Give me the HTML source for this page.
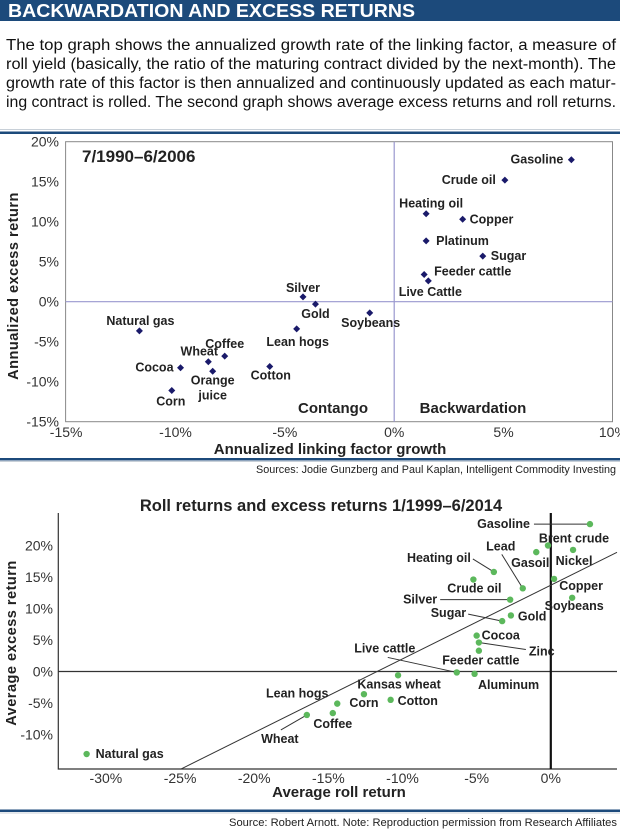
<!DOCTYPE html>
<html><head><meta charset="utf-8"><style>
html,body{margin:0;padding:0;background:#fff;}
svg{display:block;font-family:"Liberation Sans",sans-serif;}
</style></head><body>
<svg id="svg" width="620" height="832" viewBox="0 0 620 832" xmlns="http://www.w3.org/2000/svg">
<rect x="0" y="0" width="620" height="21" fill="#1c4a7b"/>
<text x="8" y="17" fill="#fff" font-weight="bold" font-size="18" textLength="407" lengthAdjust="spacingAndGlyphs">BACKWARDATION AND EXCESS RETURNS</text>
<g font-size="15.5" fill="#111">
<text x="6" y="50" textLength="610" lengthAdjust="spacingAndGlyphs">The top graph shows the annualized growth rate of the linking factor, a measure of</text>
<text x="6" y="69" textLength="610" lengthAdjust="spacingAndGlyphs">roll yield (basically, the ratio of the maturing contract divided by the next-month). The</text>
<text x="6" y="88" textLength="610" lengthAdjust="spacingAndGlyphs">growth rate of this factor is then annualized and continuously updated as each matur-</text>
<text x="6" y="107" textLength="610" lengthAdjust="spacingAndGlyphs">ing contract is rolled. The second graph shows average excess returns and roll returns.</text>
</g>
<line x1="0" y1="129.5" x2="620" y2="129.5" stroke="#c8d0d8" stroke-width="1"/>
<rect x="0" y="131.5" width="620" height="2.5" fill="#1c4a7b"/>
<g id="top"></g>
<rect x="0" y="458" width="620" height="2.5" fill="#1c4a7b"/>
<line x1="0" y1="461.5" x2="620" y2="461.5" stroke="#c8d0d8" stroke-width="1"/>
<text x="616" y="473" text-anchor="end" font-size="11" fill="#222" textLength="360" lengthAdjust="spacingAndGlyphs">Sources: Jodie Gunzberg and Paul Kaplan, Intelligent Commodity Investing</text>
<g id="bot"></g>
<rect x="0" y="809.5" width="620" height="2.5" fill="#1c4a7b"/>
<line x1="0" y1="813" x2="620" y2="813" stroke="#c8d0d8" stroke-width="1"/>
<text x="617" y="826" text-anchor="end" font-size="11" fill="#222" textLength="388" lengthAdjust="spacingAndGlyphs">Source: Robert Arnott. Note: Reproduction permission from Research Affiliates</text>
</svg>
<script>
// ---- Top chart data ----
const topNames = ["Gasoline","Crude oil","Heating oil","Copper","Platinum","Sugar","Feeder cattle","Live Cattle","Silver","Gold","Soybeans","Lean hogs","Natural gas","Coffee","Wheat","Orange|juice","Cocoa","Cotton","Corn"];
const topX = [8.1,5.06,1.46,3.13,1.46,4.05,1.37,1.56,-4.17,-3.6,-1.12,-4.46,-11.65,-7.75,-8.5,-8.3,-9.77,-5.69,-10.17];
const topY = [17.75,15.2,11.0,10.3,7.6,5.7,3.4,2.6,0.6,-0.3,-1.4,-3.4,-3.65,-6.8,-7.5,-8.7,-8.25,-8.1,-11.1];
const topXTicks = [-15,-10,-5,0,5,10];
const topYTicks = [-15,-10,-5,0,5,10,15,20];
const topLblAnchor = ["end","end","middle","start","start","start","start","middle","middle","middle","middle","middle","middle","middle","middle","middle","end","middle","middle"];
const topLblDx = [-8,-9,5,7,10,8,10,2,0,0,1,1,1,0,-9,0,-7,1,-1];
const topLblDy = [4,4,-6,4,4,4,1,15,-5,14,14,17,-6,-8,-6,13,4,13,15];

// ---- Bottom chart data ----
const botNames = ["Gasoline","Brent crude","Nickel","Gasoil","Heating oil","Crude oil","Copper","Lead","Silver","Soybeans","Gold","Sugar","Cocoa","Zinc","Feeder cattle","Live cattle","Aluminum","Kansas wheat","Corn","Lean hogs","Cotton","Coffee","Wheat","Natural gas"];
const botX = [2.64,-0.19,1.5,-0.98,-3.84,-5.22,0.22,-1.89,-2.74,1.44,-2.69,-3.28,-5.0,-4.85,-4.85,-6.34,-5.14,-10.3,-12.6,-14.4,-10.8,-14.7,-16.45,-31.3];
const botY = [23.4,20.0,19.3,18.95,15.8,14.6,14.7,13.2,11.4,11.7,8.9,8.0,5.7,4.6,3.3,-0.15,-0.37,-0.6,-3.6,-5.1,-4.5,-6.6,-6.9,-13.1];
const botXTicks = [-30,-25,-20,-15,-10,-5,0];
const botYTicks = [-10,-5,0,5,10,15,20];
const trendIntercept = 13.7;
const trendSlope = 1.17;
const botLblAnchor = ["end","middle","middle","middle","end","middle","middle","middle","end","middle","start","end","start","start","middle","middle","middle","middle","middle","middle","start","middle","middle","start"];
const botLblDx = [-60,26,1,-6,-23,1,27,-22,-73,2,7,-36,5,50,2,-72,34,1,0,-40,7,0,-27,9];
const botLblDy = [4,-3,15,15,-10,13,11,-38,4,12,5,-4,4,13,14,-20,15,13,13,-6,5,15,28,4];
const leaders = [[0,-56,0],[4,-21,-13],[7,-21,-34],[8,-70,0],[11,-34,-7],[13,47,7],[15,-69,-15],[22,-26,15]];

const NS="http://www.w3.org/2000/svg";
function mk(parent,tag,attrs,txt){const e=document.createElementNS(NS,tag);for(const k in attrs)e.setAttribute(k,attrs[k]);if(txt!==undefined)e.textContent=txt;parent.appendChild(e);return e;}

(function(){
const g=document.getElementById('top');
const L=65.6,R=612.5,T=141.7,B=421.7;
const xs=v=>394.2+(v)*21.87, ys=v=>301.7-v*8;
const frame=mk(g,'rect',{x:L,y:T,width:R-L,height:B-T,fill:'none',stroke:'#888','stroke-width':1});


const v0=mk(g,'line',{x1:xs(0),y1:T,x2:xs(0),y2:B,stroke:'#9a98cf','stroke-width':1.2});


const h0=mk(g,'line',{x1:L,y1:ys(0),x2:R,y2:ys(0),stroke:'#9a98cf','stroke-width':1.2});


topXTicks.forEach(t=>{
 const e=mk(g,'text',{x:xs(t),y:437,'text-anchor':'middle','font-size':14,fill:'#333'},t+'%');
 
 
});
topYTicks.forEach(t=>{
 const e=mk(g,'text',{x:59,y:ys(t)+5,'text-anchor':'end','font-size':14,fill:'#333'},t+'%');
 
 
});
topNames.forEach((n,i)=>{
 const px=xs(topX[i]),py=ys(topY[i]);
 const d=mk(g,'path',{d:`M${px},${py-3.5}L${px+3.5},${py}L${px},${py+3.5}L${px-3.5},${py}Z`,fill:'#1a1a6a'});
 
 
 n.split('|').forEach((part,j)=>{
  const t=mk(g,'text',{x:px+topLblDx[i],y:py+topLblDy[i]+j*15,'text-anchor':topLblAnchor[i],'font-size':12.5,'font-weight':'bold',fill:'#222'},part);
  
  
 });
});
const ttl=mk(g,'text',{x:82,y:162,'font-size':17,'font-weight':'bold',fill:'#222'},'7/1990–6/2006');


const c1=mk(g,'text',{x:333,y:413,'text-anchor':'middle','font-size':15,'font-weight':'bold',fill:'#222'},'Contango');


const c2=mk(g,'text',{x:473,y:413,'text-anchor':'middle','font-size':15,'font-weight':'bold',fill:'#222'},'Backwardation');


const xt=mk(g,'text',{x:330,y:454,'text-anchor':'middle','font-size':15,'font-weight':'bold',fill:'#222'},'Annualized linking factor growth');


const yt=mk(g,'text',{x:0,y:0,'text-anchor':'middle','font-size':14.5,'font-weight':'bold',fill:'#222',transform:'translate(18,286) rotate(-90)','letter-spacing':'0.5'},'Annualized excess return');


})();

(function(){
const g=document.getElementById('bot');
const L=58.3,R=617,T=513,B=769;
const xs=v=>550.8+v*14.83, ys=v=>671.5-v*6.3;
const ttl=mk(g,'text',{x:321,y:511,'text-anchor':'middle','font-size':16.5,'font-weight':'bold',fill:'#222'},'Roll returns and excess returns 1/1999–6/2014');


const ax=mk(g,'path',{d:`M${L},${T}V${B}H${R}`,fill:'none',stroke:'#333','stroke-width':1.2});


const h0=mk(g,'line',{x1:L,y1:ys(0),x2:R,y2:ys(0),stroke:'#333','stroke-width':1.2});


const v0=mk(g,'line',{x1:xs(0),y1:T,x2:xs(0),y2:B,stroke:'#111','stroke-width':2.2});


const yAtL=-15.5, xStart=(yAtL-trendIntercept)/trendSlope;
const xEnd=(R-550.8)/14.83;
const tl=mk(g,'line',{x1:xs(xStart),y1:ys(yAtL),x2:xs(xEnd),y2:ys(trendIntercept+trendSlope*xEnd),stroke:'#333','stroke-width':1});


botXTicks.forEach(t=>{
 const e=mk(g,'text',{x:xs(t),y:783,'text-anchor':'middle','font-size':14,fill:'#333'},t+'%');
 
 
});
botYTicks.forEach(t=>{
 const e=mk(g,'text',{x:53,y:ys(t)+5,'text-anchor':'end','font-size':14,fill:'#333'},t+'%');
 
 
});
leaders.forEach(l=>{
 const i=l[0],px=xs(botX[i]),py=ys(botY[i]);
 const e=mk(g,'line',{x1:px+l[1],y1:py+l[2],x2:px,y2:py,stroke:'#333','stroke-width':1});
 
 
});
botNames.forEach((n,i)=>{
 const px=xs(botX[i]),py=ys(botY[i]);
 const c=mk(g,'circle',{cx:px,cy:py,r:3.2,fill:'#5cb85c'});
 
 
});
botNames.forEach((n,i)=>{
 const px=xs(botX[i]),py=ys(botY[i]);
 const t=mk(g,'text',{x:px+botLblDx[i],y:py+botLblDy[i],'text-anchor':botLblAnchor[i],'font-size':12.5,'font-weight':'bold',fill:'#222'},n);
 
 
});
const xt=mk(g,'text',{x:339,y:797,'text-anchor':'middle','font-size':15,'font-weight':'bold',fill:'#222'},'Average roll return');


const yt=mk(g,'text',{x:0,y:0,'text-anchor':'middle','font-size':14.5,'font-weight':'bold',fill:'#222',transform:'translate(16,643) rotate(-90)','letter-spacing':'0.5'},'Average excess return');


})();
</script>
</body></html>
